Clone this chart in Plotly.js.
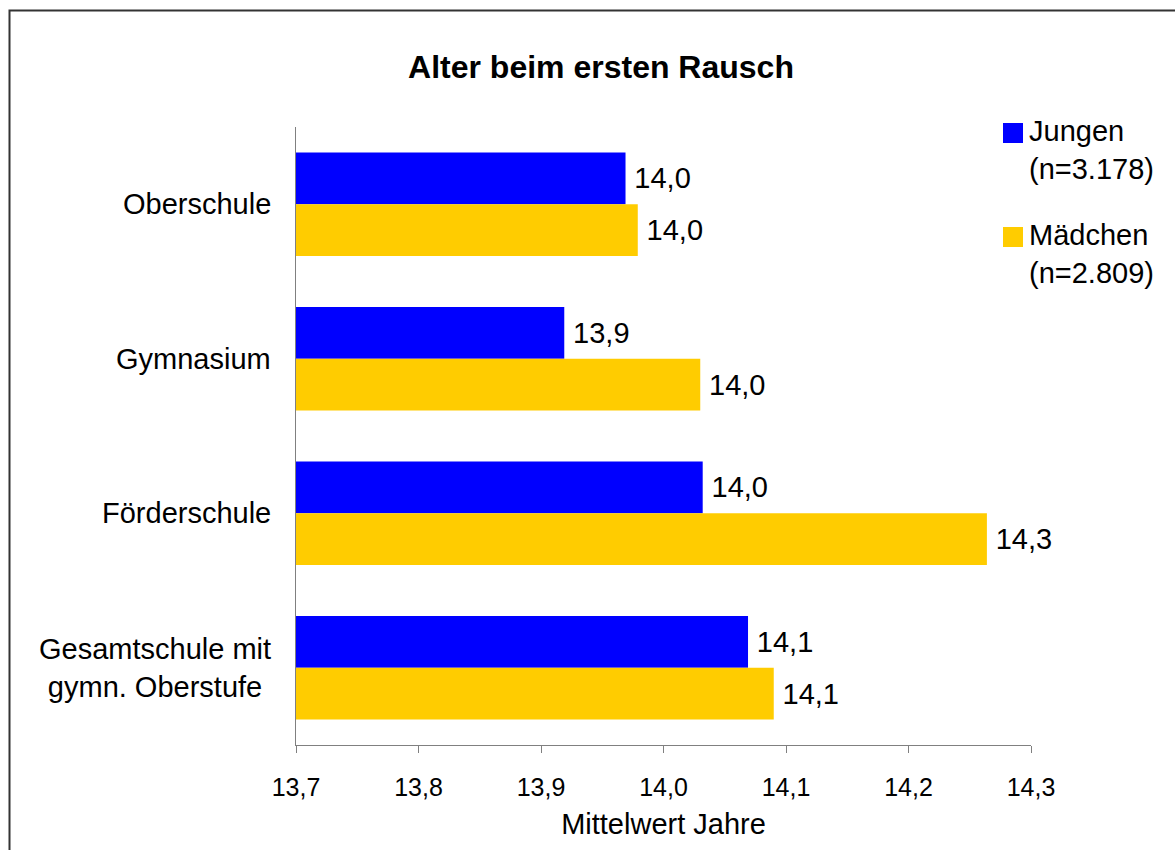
<!DOCTYPE html>
<html>
<head>
<meta charset="utf-8">
<script src="https://cdn.plot.ly/plotly-3.0.1.min.js"></script>
<style>
html,body{margin:0;padding:0;background:#fff;}
#chart{width:1175px;height:850px;}
</style>
</head>
<body>
<div id="chart"></div>
<script>
const categories = ["Oberschule", "Gymnasium", "Förderschule", "Gesamtschule mit<br>gymn. Oberstufe"];
const seriesNames = ["Jungen<br>(n=3.178)", "Mädchen<br>(n=2.809)"];
const seriesColors = ["#0000FF", "#FFCC00"];
const jungen = [13.969, 13.919, 14.032, 14.069];
const maedchen = [13.979, 14.030, 14.264, 14.090];
const xTicks = [13.7, 13.8, 13.9, 14.0, 14.1, 14.2, 14.3];

const FONT = "Liberation Sans, Arial, sans-serif";
const W = 1175, H = 850, ML = 296, MR = 144, MT = 127, MB = 105;
const PW = W - ML - MR, PH = H - MT - MB;
const px2x = p => (p - ML) / PW;
const px2y = p => (H - MB - p) / PH;

const seriesValues = [jungen, maedchen];
const traces = seriesValues.map((vals, i) => ({
  type:'bar', orientation:'h', name: seriesNames[i], y: categories, x: vals,
  marker:{color: seriesColors[i], line:{width:0}},
  texttemplate:'&#8201;%{x:.1f}', textposition:'outside', cliponaxis:false,
  textfont:{family:FONT, size:29, color:'#000'}, showlegend:false
}));

// custom legend (large square symbols like the reference)
const legendTop = [123, 227];
const shapes = [{type:'rect', xref:'paper', yref:'paper', x0:px2x(9.5), x1:2, y0:-1, y1:px2y(10.5),
           line:{color:'#333', width:2}, fillcolor:'rgba(0,0,0,0)', layer:'below'}];
const annotations = [];
seriesNames.forEach((n, i) => {
  shapes.push({type:'rect', xref:'paper', yref:'paper', x0:px2x(1003), x1:px2x(1023),
               y0:px2y(legendTop[i]+20), y1:px2y(legendTop[i]), fillcolor:seriesColors[i],
               line:{width:0}, layer:'above'});
  annotations.push({xref:'paper', yref:'paper', x:px2x(1027), y:px2y(legendTop[i]+27), xanchor:'left', yanchor:'middle',
               text:n, align:'left', showarrow:false, font:{family:FONT, size:29, color:'#000'}});
});
categories.forEach(c => {
  annotations.push({xref:'paper', yref:'y', x:px2x(273), y:c, xanchor:'right', yanchor:'middle',
               text:c, align:'center', showarrow:false, font:{family:FONT, size:29, color:'#000'}});
});

const layout = {
  width:W, height:H,
  separators:',.',
  margin:{l:ML, r:MR, t:MT, b:MB, pad:0, autoexpand:false},
  paper_bgcolor:'#fff', plot_bgcolor:'#fff',
  font:{family:FONT, color:'#000'},
  title:{text:'<b>Alter beim ersten Rausch</b>', font:{family:FONT, size:32, color:'#000'},
         x:px2x(601), xref:'paper', xanchor:'center', y:1-67/H, yref:'container', yanchor:'middle'},
  barmode:'group', bargap:0.33, bargroupgap:0,
  xaxis:{range:[13.7,14.3], tickvals:xTicks, tickformat:'.1f', showgrid:false, zeroline:false,
         showline:true, linecolor:'#808080', linewidth:1, ticks:'outside', ticklen:7, tickcolor:'#808080',
         ticklabelstandoff:13,
         tickfont:{family:FONT, size:25, color:'#000'},
         title:{text:'Mittelwert Jahre', font:{family:FONT, size:29, color:'#000'}, standoff:13}},
  yaxis:{type:'category', categoryorder:'array', categoryarray:categories, autorange:'reversed',
         range:[3.5,-0.5], showgrid:false, zeroline:false, showline:true, linecolor:'#808080', linewidth:1,
         showticklabels:false, ticks:''},
  shapes: shapes,
  annotations: annotations,
  showlegend:false
};

Plotly.newPlot('chart', traces, layout, {displayModeBar:false, staticPlot:true});
</script>
</body>
</html>
